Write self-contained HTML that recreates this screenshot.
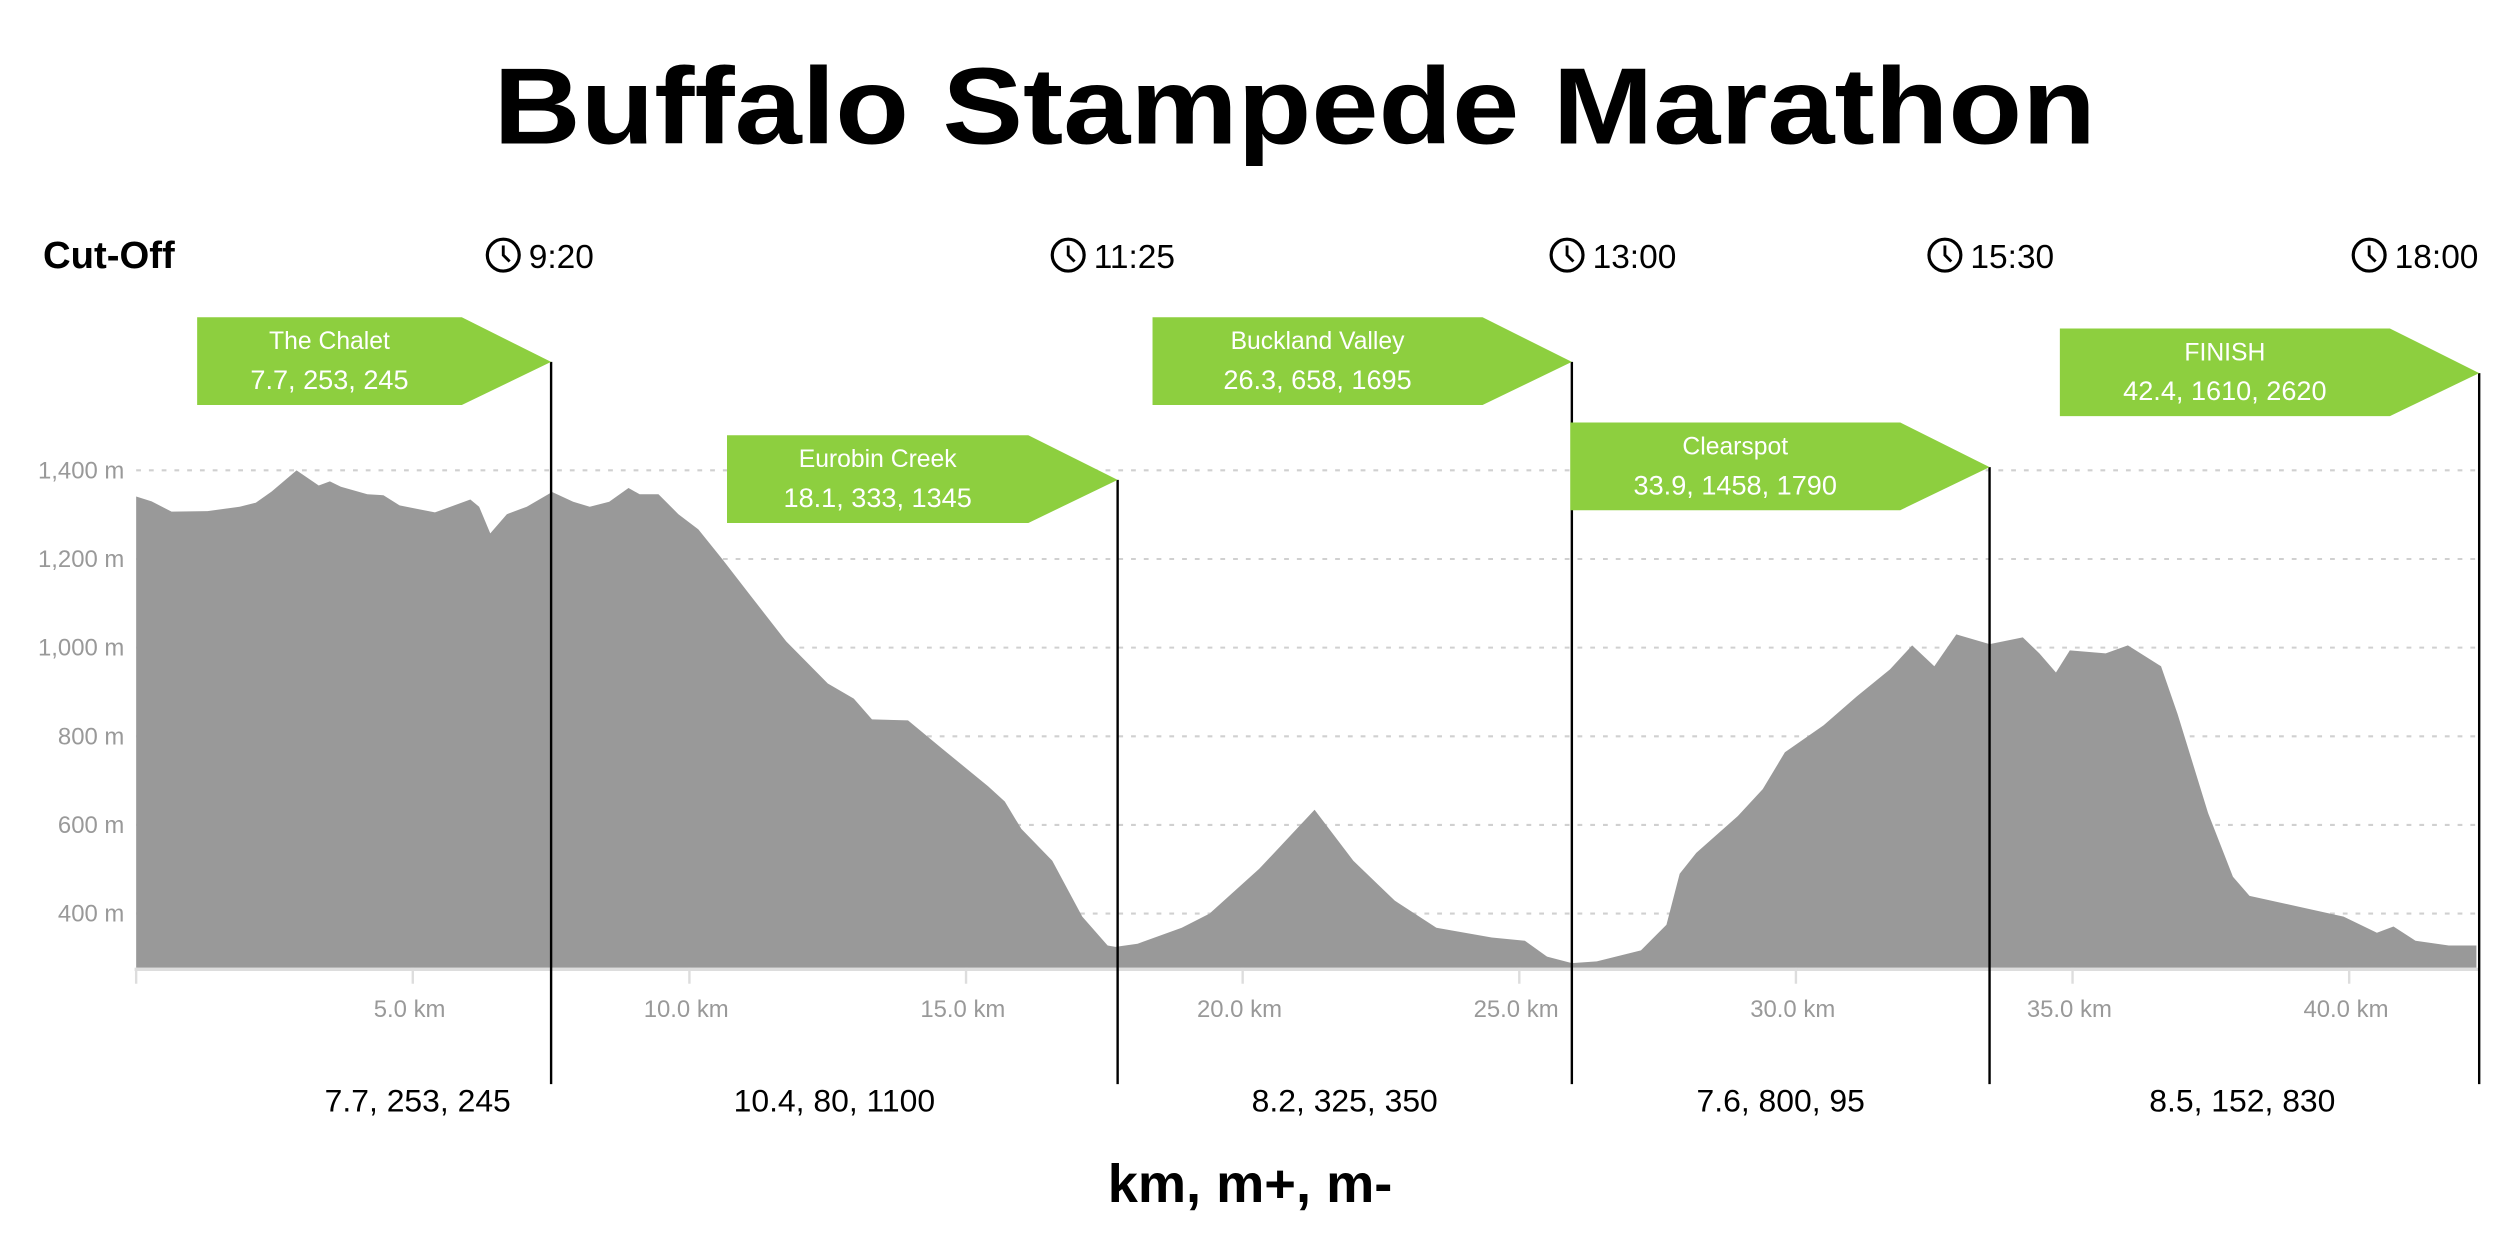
<!DOCTYPE html>
<html><head><meta charset="utf-8"><style>
html,body{margin:0;padding:0;background:#fff}
svg{display:block}
text{font-family:"Liberation Sans",sans-serif}
</style></head><body>
<svg id="chart" width="2500" height="1250" viewBox="0 0 1568 784" xmlns="http://www.w3.org/2000/svg">
<text x="812" y="90" text-anchor="middle" font-size="68" font-weight="bold" textLength="1005" lengthAdjust="spacingAndGlyphs">Buffalo Stampede Marathon</text>
<text x="27" y="168" font-size="24" font-weight="bold">Cut-Off</text>
<g id="grid"></g>
<g id="area"></g>
<g id="axes"></g>
<g id="checkpoints"></g>
<text x="784" y="754" text-anchor="middle" font-size="34" font-weight="bold">km, m+, m-</text>
</svg>
<script>
const kms=[0,0.28,0.64,1.29,1.87,2.16,2.45,2.9,3.3,3.5,3.7,4.18,4.47,4.76,5.4,6.04,6.2,6.4,6.7,7.06,7.52,7.9,8.2,8.55,8.9,9.1,9.44,9.8,10.16,10.6,11.1,11.75,12.5,12.97,13.3,13.95,14.56,15.4,15.7,16.0,16.56,17.1,17.56,17.7,18.1,18.9,19.4,20.3,21.3,22.0,22.75,23.5,24.5,25.1,25.5,25.95,26.4,27.2,27.66,27.9,28.2,28.95,29.4,29.8,30.5,31.1,31.7,32.1,32.5,32.9,33.5,34.1,34.4,34.7,34.95,35.6,36.0,36.6,36.9,37.45,37.9,38.2,39.0,39.9,40.5,40.8,41.2,41.8,42.3];
const elev=[1341,1330,1307,1308,1318,1327,1352,1400,1366,1375,1363,1346,1344,1321,1305,1334,1318,1258,1301,1318,1351,1329,1318,1329,1360,1346,1346,1301,1267,1199,1118,1014,919,885,838,836,773,687,653,591,519,393,328,325,332,368,400,501,634,519,429,368,346,339,303,288,292,317,375,490,537,620,681,764,825,890,951,1005,958,1030,1008,1023,987,944,994,987,1005,958,850,627,483,440,418,393,357,371,339,328,328];
const yTicks=[400,600,800,1000,1200,1400];
const yTickLabels=["400 m","600 m","800 m","1,000 m","1,200 m","1,400 m"];
const xTicks=[5,10,15,20,25,30,35,40];
const xTickLabels=["5.0 km","10.0 km","15.0 km","20.0 km","25.0 km","30.0 km","35.0 km","40.0 km"];
const cpKm=[7.5,17.74,25.95,33.5,42.35];
const cpNames=["The Chalet","Eurobin Creek","Buckland Valley","Clearspot","FINISH"];
const cpStats=["7.7, 253, 245","18.1, 333, 1345","26.3, 658, 1695","33.9, 1458, 1790","42.4, 1610, 2620"];
const cpTimes=["9:20","11:25","13:00","15:30","18:00"];
const segStats=["7.7, 253, 245","10.4, 80, 1100","8.2, 325, 350","7.6, 800, 95","8.5, 152, 830"];
const flagTop=[199,273,199,265,206];

const NS="http://www.w3.org/2000/svg";
const X0=85.4,KPX=34.7,BASE=607;
const clockOff=[-30,-31,-3,-28,-69];
function xs(k){return X0+k*KPX;}
function ys(m){return 295+(1400-m)*0.278;}
function mk(tag,attrs,parent,txt){const e=document.createElementNS(NS,tag);for(const k in attrs)e.setAttribute(k,attrs[k]);if(txt!==undefined)e.textContent=txt;parent.appendChild(e);return e;}
const grid=document.getElementById('grid'),area=document.getElementById('area'),axes=document.getElementById('axes'),cps=document.getElementById('checkpoints');
const xEnd=xs(42.3);
yTicks.forEach((v,i)=>{
  const l=mk('line',{x1:X0,x2:xEnd+2,y1:ys(v),y2:ys(v),stroke:'#d0d0d0','stroke-width':1.3,'stroke-dasharray':'3,5'},grid);
  
  
  const t=mk('text',{x:78,y:ys(v)+5,'text-anchor':'end','font-size':15,fill:'#999'},grid,yTickLabels[i]);
  
  
});
let d='M'+xs(kms[0])+','+BASE;
kms.forEach((k,i)=>{d+=' L'+xs(k).toFixed(1)+','+ys(elev[i]).toFixed(1);});
d+=' L'+xs(kms[kms.length-1])+','+BASE+' Z';
const p=mk('path',{d:d,fill:'#999999'},area);


const ax=mk('line',{x1:X0-1,x2:xEnd+2,y1:BASE+1,y2:BASE+1,stroke:'#ddd','stroke-width':2},axes);


const lt=mk('line',{x1:X0,x2:X0,y1:BASE,y2:617,stroke:'#ddd','stroke-width':1.5},axes);


xTicks.forEach((v,i)=>{
  const tk=mk('line',{x1:xs(v),x2:xs(v),y1:BASE,y2:617,stroke:'#ddd','stroke-width':1.5},axes);
  
  
  const t=mk('text',{x:xs(v)-2,y:638,'text-anchor':'middle','font-size':15,fill:'#999'},axes,xTickLabels[i]);
  
  
});
cpKm.forEach((k,i)=>{
  const x=xs(k),top=flagTop[i],h=55;
  const tipY=top+28;
  const vl=mk('line',{x1:x,x2:x,y1:tipY,y2:680,stroke:'#000','stroke-width':1.5},cps);
  
  
  const rx=x-56-(i==0?166:(i==1?189:207));
  const fl=mk('polygon',{points:`${rx},${top} ${x-56},${top} ${x},${tipY} ${x-56},${top+h} ${rx},${top+h}`,fill:'#8DCF3F'},cps);
  
  
  const cx=(rx+x-56)/2;
  const n=mk('text',{x:cx,y:top+20,'text-anchor':'middle','font-size':15.5,fill:'#fff'},cps,cpNames[i]);
  
  
  const s=mk('text',{x:cx,y:top+45,'text-anchor':'middle','font-size':17,fill:'#fff'},cps,cpStats[i]);
  
  
  const ccx=x+clockOff[i], ccy=160;
  const clk=mk('g',{},cps);
  
  
  mk('circle',{cx:ccx,cy:ccy,r:10,fill:'none',stroke:'#000','stroke-width':2},clk);
  mk('path',{d:`M${ccx},${ccy-6} L${ccx},${ccy} L${ccx+4},${ccy+4}`,fill:'none',stroke:'#000','stroke-width':1.8},clk);
  const tt=mk('text',{x:ccx+16,y:168,'font-size':21,fill:'#000'},cps,cpTimes[i]);
  
  
  const prev=i==0?X0:xs(cpKm[i-1]);
  const bs=mk('text',{x:(i==0?262:(prev+x)/2+(i==4?5:0)),y:697,'text-anchor':'middle','font-size':20,fill:'#000'},cps,segStats[i]);
  
  
});
</script>
</body></html>
